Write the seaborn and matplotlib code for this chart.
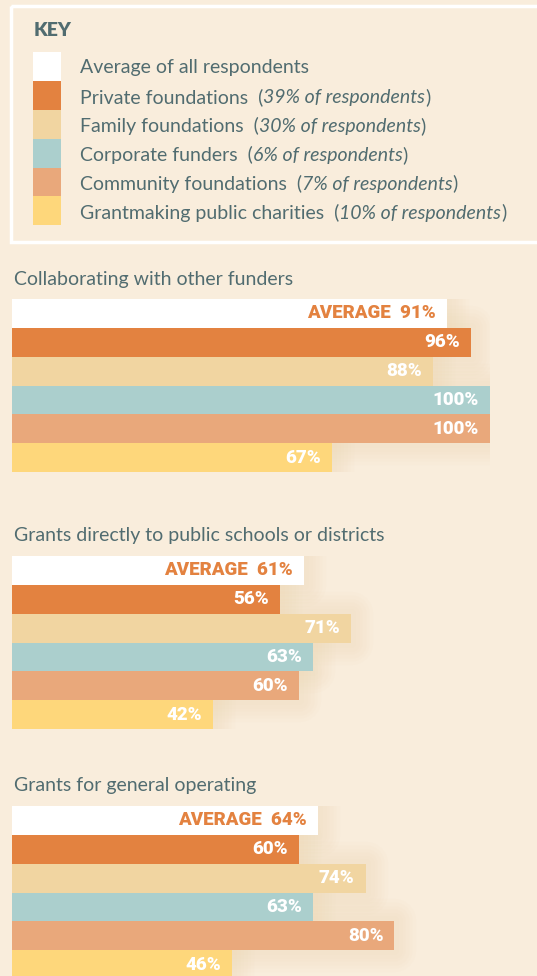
import matplotlib.pyplot as plt
import matplotlib.patheffects as pe
import seaborn as sns
import pandas as pd
from matplotlib.patches import Rectangle

# groups shown in every panel, top to bottom
groups = ["Average of all respondents", "Private foundations", "Family foundations",
          "Corporate funders", "Community foundations", "Grantmaking public charities"]
shares = [None, "39%", "30%", "6%", "7%", "10%"]
colors = ["#FFFFFF", "#E38240", "#F1D5A1", "#ABCFCD", "#E9A87B", "#FED77B"]

titles = ["Collaborating with other funders",
          "Grants directly to public schools or districts",
          "Grants for general operating"]
collab = [91, 96, 88, 100, 100, 67]
schools = [61, 56, 71, 63, 60, 42]
operating = [64, 60, 74, 63, 80, 46]

BG = "#F9EDDC"
TXT = "#516C70"
ORANGE = "#E38240"
W, H = 537, 976

sns.set_style("white")
plt.rcParams["font.family"] = ["Lato", "DejaVu Sans"]
label_font = ["Roboto", "DejaVu Sans"]

fig = plt.figure(figsize=(W / 100, H / 100), dpi=100, facecolor=BG)

# ---- key box ----
kax = fig.add_axes([0, 1 - 250 / H, 1, 250 / H])
kax.set_xlim(0, W)
kax.set_ylim(250, 0)
kax.axis("off")
kax.add_patch(Rectangle((11, 6), 560, 236, fill=False, edgecolor="white", lw=2.5))
kax.text(34, 31, "KEY", color=TXT, fontsize=14, fontweight="heavy", va="center")
for i, (g, s, c) in enumerate(zip(groups, shares, colors)):
    top = 52 + i * 28.9
    kax.add_patch(Rectangle((33, top), 28, 29, color=c, lw=0))
    yc = top + 16
    if s is None:
        kax.text(80, yc, g, color=TXT, fontsize=14, va="center")
    else:
        t1 = kax.text(80, yc, g + "  (", color=TXT, fontsize=14, va="center")
        t2 = kax.annotate(s + " of respondents", xy=(1, 0), xycoords=t1, va="bottom",
                          color=TXT, fontsize=14, fontstyle="italic")
        kax.annotate(")", xy=(1, 0), xycoords=t2, va="bottom", color=TXT, fontsize=14)

# ---- bar panels ----
panel_tops = [299, 556, 806]
bar_h = 173
glow = [pe.Stroke(linewidth=w, foreground="#F0D5AE", alpha=0.06, joinstyle="round")
        for w in (32, 27, 22, 17, 12, 7)]
for title, vals, top in zip(titles, [collab, schools, operating], panel_tops):
    ax = fig.add_axes([12 / W, 1 - (top + bar_h) / H, 478 / W, bar_h / H])
    df = pd.DataFrame({"group": groups, "value": vals})
    # soft glow drawn behind the bars
    sns.barplot(data=df, x="value", y="group", hue="group", palette=colors,
                orient="h", width=1, saturation=1, legend=False, ax=ax)
    for p in ax.patches:
        p.set_facecolor(BG)
        p.set_linewidth(0)
        p.set_path_effects(glow)
    sns.barplot(data=df, x="value", y="group", hue="group", palette=colors,
                orient="h", width=1, saturation=1, legend=False, ax=ax)
    for p in ax.patches[len(groups):]:
        p.set_linewidth(0)
    ax.set_xlim(0, 100)
    ax.set_ylim(5.5, -0.5)
    ax.axis("off")
    ax.patch.set_alpha(0)
    for i, v in enumerate(vals):
        if i == 0:
            txt, col = f"AVERAGE  {v}%", ORANGE
        else:
            txt, col = f"{v}%", "white"
        ax.annotate(txt, xy=(v, i), xytext=(-11, 0), textcoords="offset pixels",
                    ha="right", va="center", color=col, fontsize=13.5,
                    fontweight="black", family=label_font)
    ax.text(2 / 478, 1 + 20 / bar_h, title, transform=ax.transAxes, color=TXT,
            fontsize=14, va="center", ha="left")

fig.savefig("out.png", dpi=100, facecolor=BG)
